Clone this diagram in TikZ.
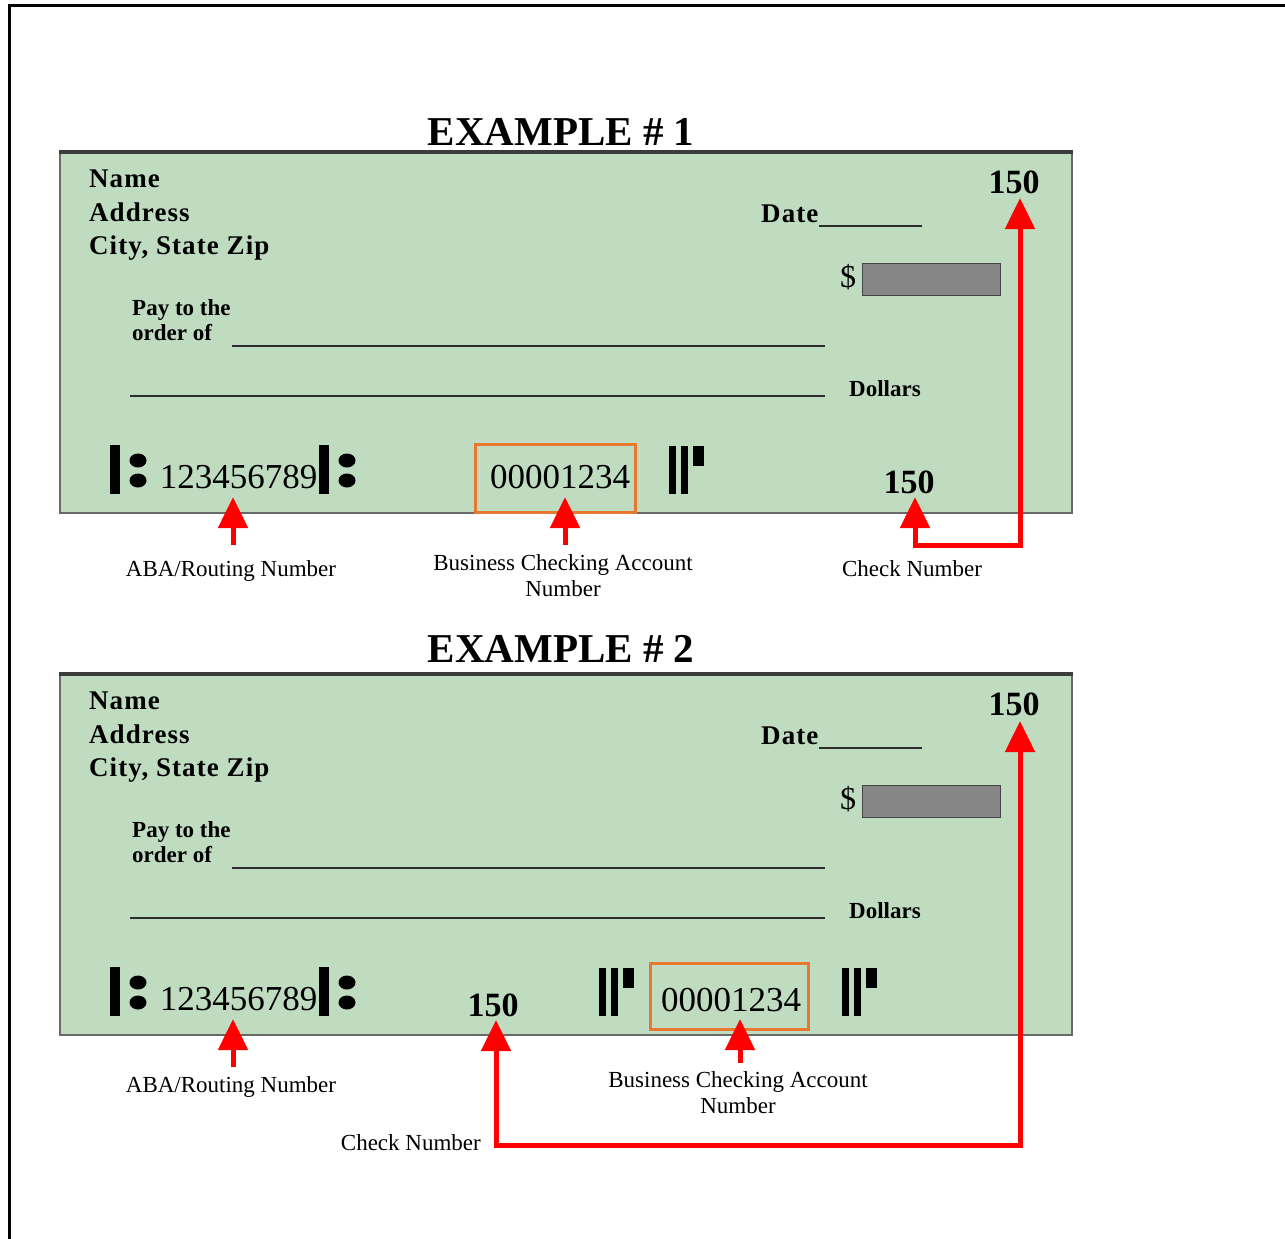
\documentclass[tikz,border=0pt]{standalone}
\usepackage{fontspec}
\setmainfont{Liberation Serif}
\usetikzlibrary{arrows.meta}
\definecolor{chkgreen}{RGB}{192,220,192}
\definecolor{chkedge}{RGB}{105,105,105}
\definecolor{chktop}{RGB}{60,60,60}
\definecolor{microrange}{RGB}{232,120,48}
\definecolor{amtgray}{RGB}{134,134,134}
\definecolor{amtedge}{RGB}{70,70,70}
\definecolor{rulegray}{RGB}{45,45,45}
\definecolor{arrred}{RGB}{255,0,0}
\tikzset{
  chkbox/.style={anchor=north west, inner sep=0, minimum width=1012pt, minimum height=360pt, fill=chkgreen, draw=chkedge, line width=1.5pt},
  hdr/.style={anchor=base west, inner sep=0, font=\fontsize{27}{32}\selectfont\bfseries\addfontfeature{LetterSpace=4}},
  smb/.style={anchor=base west, inner sep=0, font=\fontsize{23}{28}\selectfont\bfseries},
  dollarsign/.style={anchor=base west, inner sep=0, font=\fontsize{32}{36}\selectfont},
  amount/.style={anchor=north west, inner sep=0, minimum width=138pt, minimum height=32pt, fill=amtgray, draw=amtedge, line width=1pt},
  numb/.style={anchor=base, inner sep=0, font=\fontsize{34}{40}\selectfont\bfseries},
  micr/.style={anchor=base, inner sep=0, font=\fontsize{35}{40}\selectfont},
  micrframe/.style={anchor=north west, inner sep=0, draw=microrange, line width=3pt},
  ttl/.style={anchor=base, inner sep=0, font=\fontsize{41}{48}\selectfont\bfseries},
  lbl/.style={anchor=base, inner sep=0, font=\fontsize{23}{27}\selectfont},
  rule/.style={draw=rulegray, line width=1.3pt},
  redarr/.style={draw=arrred, line width=5pt, -{Triangle[width=29pt,length=31pt]}},
  redarrboth/.style={draw=arrred, line width=5pt, line join=miter, {Triangle[width=29pt,length=31pt]}-{Triangle[width=29pt,length=31pt]}}
}
\newcommand{\chequebase}[2]{%
\begin{scope}[shift={(0,#2)}]
  \node[chkbox] (#1chk) at (59,152) {};
  \draw[line width=3.5pt, draw=chktop] (#1chk.north west) -- (#1chk.north east);
  \node[hdr] (#1name) at (89,187) {Name};
  \node[hdr] (#1addr) at (89,221) {Address};
  \node[hdr] (#1city) at (89,254) {City, State Zip};
  \node[hdr] (#1date) at (761,222) {Date};
  \coordinate (#1dla) at (819,226);
  \coordinate (#1dlb) at (922,226);
  \draw[rule] (#1dla) -- (#1dlb);
  \node[smb] (#1pay) at (132,315) {Pay to the};
  \node[smb] (#1ord) at (132,340) {order of};
  \coordinate (#1pla) at (232,346);
  \coordinate (#1plb) at (825,346);
  \draw[rule] (#1pla) -- (#1plb);
  \coordinate (#1wla) at (130,396);
  \coordinate (#1wlb) at (825,396);
  \draw[rule] (#1wla) -- (#1wlb);
  \node[smb] (#1dol) at (849,396) {Dollars};
  \node[dollarsign] (#1dsign) at (840,287) {\$};
  \node[amount] (#1amt) at (862,263) {};
  \node[numb] (#1no) at (1014,193) {150};
\end{scope}}
\newcommand{\transitsym}[2]{%
\begin{scope}[shift={(#1,#2)}]
  \fill (0,445) rectangle (10,494);
  \fill (28,460.5) ellipse [x radius=8.5, y radius=7];
  \fill (28,480.5) ellipse [x radius=8.5, y radius=7];
\end{scope}}
\newcommand{\onussym}[2]{%
\begin{scope}[shift={(#1,#2)}]
  \fill (0,446) rectangle (7,494);
  \fill (12,446) rectangle (19,494);
  \fill (24,446) rectangle (35,466);
\end{scope}}
\begin{document}
\begin{tikzpicture}[x=1pt,y=-1pt]
\useasboundingbox (0,0) rectangle (1285,1239);
\fill[white] (0,0) rectangle (1285,1239);
% outer frame
\coordinate (frA) at (9.5,1240);
\coordinate (frB) at (9.5,6);
\coordinate (frC) at (1286,6);
\draw[line width=3pt] (frA) -- (frB) -- (frC);

% titles
\node[ttl] (t1) at (561,145) {EXAMPLE \# 1};
\node[ttl] (t2) at (561,662) {EXAMPLE \# 2};

% ---------- Example 1 ----------
\chequebase{a}{0}
\transitsym{110}{0}
\transitsym{319}{0}
\node[micr] (aaba) at (238.5,488) {123456789};
\node[micrframe, minimum width=160pt, minimum height=68pt] (aaccbox) at (474,443) {};
\node[micr] (aacc) at (560,488) {00001234};
\onussym{669}{0}
\node[numb] (achk) at (909,493) {150};

\coordinate (aabaS) at (233,545);
\coordinate (aabaT) at (233,497);
\draw[redarr] (aabaS) -- (aabaT);
\coordinate (aaccS) at (565,545);
\coordinate (aaccT) at (565,497);
\draw[redarr] (aaccS) -- (aaccT);
\coordinate (anoT) at (1020,198);
\coordinate (acA) at (1020,545);
\coordinate (acB) at (915,545);
\coordinate (achkT) at (915,497);
\draw[redarrboth] (anoT) -- (acA) -- (acB) -- (achkT);

\node[lbl] (alaba) at (231,576) {ABA/Routing Number};
\node[lbl] (alacca) at (563,570) {Business Checking Account};
\node[lbl] (alaccb) at (563,596) {Number};
\node[lbl] (alchk) at (912,576) {Check Number};

% ---------- Example 2 ----------
\chequebase{b}{522}
\transitsym{110}{522}
\transitsym{319}{522}
\node[micr] (baba) at (238.5,1010) {123456789};
\node[numb] (bchk) at (493,1016) {150};
\onussym{599}{522}
\node[micrframe, minimum width=158pt, minimum height=66pt] (baccbox) at (649,962) {};
\node[micr] (bacc) at (731,1011) {00001234};
\onussym{842}{522}

\coordinate (babaS) at (233,1067);
\coordinate (babaT) at (233,1019);
\draw[redarr] (babaS) -- (babaT);
\coordinate (baccS) at (740,1063);
\coordinate (baccT) at (740,1019);
\draw[redarr] (baccS) -- (baccT);
\coordinate (bnoT) at (1020,721);
\coordinate (bcA) at (1020,1145);
\coordinate (bcB) at (496,1145);
\coordinate (bchkT) at (496,1020);
\draw[redarrboth] (bnoT) -- (bcA) -- (bcB) -- (bchkT);

\node[lbl] (blaba) at (231,1092) {ABA/Routing Number};
\node[lbl] (blacca) at (738,1087) {Business Checking Account};
\node[lbl] (blaccb) at (738,1113) {Number};
\node[lbl, anchor=base east] (blchk) at (481,1150) {Check Number};
\end{tikzpicture}
\end{document}
